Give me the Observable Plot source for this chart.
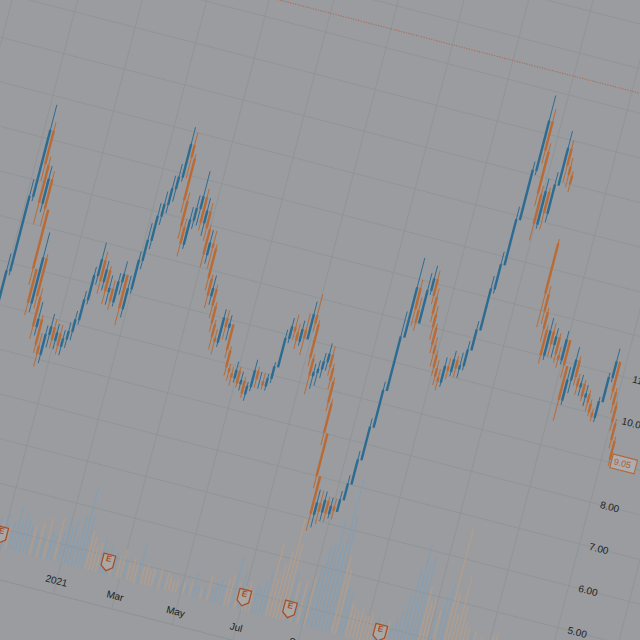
<!DOCTYPE html>
<html><head><meta charset="utf-8">
<script src="https://cdn.jsdelivr.net/npm/d3@7"></script>
<script src="https://cdn.jsdelivr.net/npm/@observablehq/plot@0.6"></script>
<style>
html,body{margin:0;padding:0;width:640px;height:640px;overflow:hidden;background:#9a9c9f;}
#stage{position:absolute;left:0;top:0;width:820px;height:840px;transform-origin:0 0;transform:matrix(0.9681,0.2504,-0.2504,0.9681,30.72,-198.63);}
#stage svg{position:absolute;left:0;top:0;max-width:none;}
#baseline{position:absolute;left:0;top:761px;width:820px;height:1px;background:#8e9195;}
</style></head><body><div id="stage"></div>
<script>
// ---- data ----
const firstDate = "2020-08-17";      // first candle, candles every 3.5 days
const stepDays = 3.5;
const firstOpen = 7.4;
const gapOpens = {151: 13.6};        // gap-down open after the second peak
const closes = [
 7.6,7.9,8.3,8.9,9.8,11.6,13.2,12.4,11.5,12.1,
 11.4,10.0,9.2,10.3,9.4,8.7,8.9,8.3,8.1,8.6,
 8.8,8.5,8.7,8.4,8.6,8.8,9.1,9.6,10.2,10.6,
 10.1,10.4,9.9,10.0,9.7,10.2,10.4,9.6,10.1,10.8,
 11.3,11.9,12.2,12.6,12.9,13.7,13.4,12.4,11.8,11.4,
 12.0,12.3,12.6,12.0,12.3,11.9,11.3,11.6,11.5,10.8,
 10.4,10.6,10.2,9.8,9.5,9.4,10.0,9.8,9.9,9.3,
 8.9,8.8,8.7,8.9,8.6,8.7,8.4,8.6,9.0,8.8,
 8.8,8.7,8.9,9.2,9.9,10.2,10.1,9.9,10.2,10.0,
 10.6,10.4,9.6,9.2,9.3,9.4,9.6,9.8,9.5,9.2,
 8.7,8.0,7.0,6.1,6.4,6.2,6.5,6.2,6.4,6.3,
 6.6,7.0,7.6,8.4,9.3,10.6,11.8,11.3,11.0,11.8,
 12.1,11.7,11.3,11.0,10.6,10.4,10.1,9.9,9.8,10.2,
 10.1,10.4,10.2,10.3,10.7,11.2,12.2,12.8,13.9,15.1,
 16.3,15.6,14.6,13.9,14.7,14.2,14.9,15.8,15.4,15.2,
 15.0,12.4,12.0,11.6,11.0,11.6,11.3,11.5,11.1,11.0,
 11.5,10.9,10.1,10.6,11.1,10.7,10.5,10.6,10.3,10.4,
 10.2,10.0,9.9,10.3,10.9,11.3,10.6,10.3,9.9,9.5,
 9.05];
const highs = [
 7.9,8.1,8.5,9.2,10.2,12.0,13.8,13.4,12.6,12.4,
 12.3,11.2,10.0,10.9,10.4,9.6,9.3,9.0,8.6,8.8,
 9.1,9.0,8.9,8.9,8.8,9.0,9.3,9.8,10.4,11.0,
 10.8,10.6,10.5,10.3,10.2,10.4,10.7,10.4,10.4,11.0,
 11.7,12.2,12.5,12.9,13.2,14.1,14.0,13.5,12.6,12.0,
 12.3,12.6,13.2,12.8,12.6,12.5,12.0,11.9,11.9,11.6,
 10.9,10.9,10.7,10.3,9.9,9.7,10.2,10.2,10.1,9.9,
 9.4,9.0,8.95,9.1,9.0,8.9,8.8,8.7,9.25,9.1,
 9.0,9.0,9.0,9.3,10.1,10.4,10.5,10.3,10.4,10.6,
 10.9,11.1,10.5,9.7,9.5,9.6,9.8,10.05,10.0,9.6,
 9.3,8.8,8.0,7.0,6.7,6.7,6.7,6.6,6.6,6.6,
 6.8,7.2,7.8,8.6,9.5,11.2,12.5,12.0,11.6,12.2,
 12.4,12.3,11.9,11.5,11.1,10.8,10.5,10.3,10.1,10.4,
 10.4,10.6,10.5,10.6,10.9,11.4,12.5,13.1,14.2,15.3,
 16.9,16.6,15.8,14.8,15.0,14.8,15.2,16.2,16.0,15.6,
 15.3,13.7,12.6,12.1,11.7,11.9,11.8,11.7,11.6,11.3,
 11.7,11.5,10.9,10.9,11.4,11.2,10.8,10.8,10.7,10.6,
 10.5,10.3,10.1,10.4,11.0,11.6,11.3,10.7,10.4,10.0,
 9.6];
const lows = [
 7.3,7.5,7.8,8.2,8.8,9.7,11.5,12.0,11.0,11.3,
 11.0,9.6,8.9,9.0,9.1,8.4,8.5,8.1,7.8,7.9,
 8.3,8.3,8.3,8.2,8.2,8.4,8.6,9.0,9.5,10.0,
 9.8,9.9,9.6,9.6,9.5,9.6,9.9,9.2,9.4,10.0,
 10.6,11.1,11.7,12.0,12.3,12.8,12.9,12.1,11.5,11.1,
 11.3,11.8,11.9,11.8,11.7,11.6,11.0,11.1,11.0,10.5,
 10.1,10.2,9.9,9.6,9.2,9.1,9.3,9.5,9.5,9.1,
 8.7,8.6,8.5,8.6,8.5,8.45,8.3,8.25,8.5,8.6,
 8.6,8.6,8.6,8.8,9.2,9.8,9.9,9.7,9.8,9.6,
 10.0,10.2,9.4,8.75,8.9,9.0,9.2,9.4,9.3,9.0,
 8.5,7.7,6.7,5.7,5.8,5.9,6.0,6.0,6.1,6.1,
 6.3,6.6,7.0,7.6,8.4,9.3,10.6,10.9,10.8,11.0,
 11.7,11.5,11.1,10.7,10.4,10.1,9.9,9.7,9.6,9.7,
 9.9,10.0,10.0,10.0,10.2,10.7,11.2,12.1,12.8,13.9,
 15.0,15.3,14.3,13.5,13.8,13.8,14.0,14.9,15.0,14.9,
 14.8,11.6,11.7,11.3,10.8,10.9,11.0,11.0,10.9,10.8,
 10.9,10.6,9.6,10.0,10.3,10.5,10.3,10.3,10.2,10.1,
 10.0,9.9,9.8,9.8,10.3,10.8,10.4,10.1,9.7,9.3,
 8.9];
const volumes = [
 3,4,5,6,8,9,10,8,6,5,
 5,6,5,4,5,4,3,4,3,3,
 3.0,2.5,3.5,2.2,2.8,4.5,3.2,4.0,3.5,2.8,
 3.0,2.4,3.6,2.5,4.2,3.0,2.6,4.4,3.2,4.6,
 3.8,4.6,3.0,5.2,8.3,5.5,4.0,3.4,2.6,3.0,
 3.5,2.4,2.8,2.0,2.6,2.2,3.0,2.0,1.8,2.4,
 2.0,3.9,1.8,2.2,1.6,1.8,1.5,2.0,1.4,1.8,
 1.5,1.2,1.4,1.0,1.3,1.1,1.6,2.5,1.4,1.2,
 1.3,2.6,1.5,1.8,2.4,2.0,2.8,3.2,5.1,2.6,
 3.9,2.4,3.0,2.2,2.8,2.6,3.4,4.5,7.5,4.0,
 5.5,7.0,10.4,8.0,5.0,4.2,3.6,4.4,3.8,5.0,
 6.0,8.4,8.8,11.3,9.0,15.8,12.0,8.0,6.6,5.0,
 4.4,3.6,3.0,2.8,3.2,2.4,2.6,3.0,2.2,2.8,
 2.4,2.0,2.6,2.2,3.0,4.0,5.9,8.4,11.1,9.0,
 10.0,7.0,5.6,6.0,4.6,5.0,6.5,8.0,13.7,7.0,
 5.0,9.0,6.0,4.5,4.0,3.5,3.8,3.0,3.4,3.0,
 3.2,3.8,4.2,3.0,3.4,2.6,2.8,2.4,2.6,2.2,
 2.4,2.0,2.2,2.6,3.0,3.4,2.6,2.4,2.8,3.0,
 3.4];
const earningsDates = ["2020-10-29","2021-02-14","2021-07-01","2021-08-16","2021-11-15","2022-02-28"];
const gridDates = ["2020-07-01","2020-09-01","2020-11-01","2021-01-01","2021-03-01","2021-05-01","2021-07-01","2021-09-01","2021-11-01","2022-01-01","2022-03-01","2022-05-01","2022-07-01"];
const labelDates = ["2021-01-01","2021-03-01","2021-05-01","2021-07-01","2021-09-01","2021-11-01","2022-01-01","2022-03-01","2022-05-01"];
const labelTexts = ["2021","Mar","May","Jul","Sep","Nov","2022","Mar","May"];
const priceTicks = [4,5,6,7,8,9,10,11,12,13,14,15,16,17,18,19,20];
const highLine = 17.45;
const lastPrice = 9.05;

// ---- build tables ----
const utc = d => new Date(d + "T00:00:00Z");
const t0 = utc(firstDate).getTime();
const candles = closes.map((c, i) => {
  const o = i === 0 ? firstOpen : (gapOpens[i] ?? closes[i - 1]);
  return {date: new Date(t0 + i * stepDays * 864e5), open: o, close: c,
          high: Math.max(highs[i], o, c), low: Math.min(lows[i], o, c),
          vol: volumes[i], up: c >= o};
});
const grid = gridDates.map(utc);
const ticks = labelDates.map((d, i) => ({date: utc(d), label: labelTexts[i]}));
const earnings = earningsDates.map(d => ({date: utc(d)}));

const BLUE = "#2c6b92", ORANGE = "#bb6a33";
const VBLUE = "#839fb6", VORANGE = "#b69f8c";
const TEXT = "#1d1f22";
const GRID = "#909397";
const FONT = "'Liberation Sans', Arial, sans-serif";

const X = {type: "utc", domain: [utc("2021-01-01"), utc("2022-05-01")], range: [219.7, 716.8], axis: null};
const YP = {domain: [0, 20], range: [883.4, 19.4], axis: null};

const shield = {draw(ctx) { ctx.moveTo(-6,-8); ctx.lineTo(6,-8); ctx.lineTo(6,4); ctx.lineTo(0,8.5); ctx.lineTo(-6,4); ctx.closePath(); }};
const box = {draw(ctx) { ctx.moveTo(-1,-7); ctx.lineTo(24,-7); ctx.lineTo(24,7); ctx.lineTo(-1,7); ctx.closePath(); }};

const stage = document.getElementById("stage");

const gridPlot = Plot.plot({
  width: 820, height: 840, marginTop: 0, marginRight: 0, marginBottom: 79, marginLeft: 0,
  x: X, y: YP, color: {type: "identity"},
  style: {background: "#9a9c9f", fontFamily: FONT, fontSize: "10px", maxWidth: "none"},
  marks: [
    Plot.ruleY(priceTicks, {stroke: GRID, strokeWidth: 0.8}),
    Plot.ruleX(grid, {stroke: GRID, strokeWidth: 0.8}),
    Plot.text(ticks, {x: "date", text: "label", frameAnchor: "bottom", dy: -10, fill: TEXT, fontSize: 10})
  ]
});
stage.appendChild(gridPlot);
const bl = document.createElement("div"); bl.id = "baseline"; stage.appendChild(bl);

const volPlot = Plot.plot({
  width: 820, height: 840, marginTop: 570, marginRight: 92, marginBottom: 110, marginLeft: 0,
  x: X, y: {domain: [0, 16], axis: null}, color: {type: "identity"},
  style: {background: "transparent", fontFamily: FONT, maxWidth: "none"},
  marks: [
    Plot.ruleX(candles, {x: "date", y1: 0, y2: "vol", stroke: d => d.up ? VBLUE : VORANGE, strokeWidth: 1.3, strokeOpacity: 0.85}),
    Plot.dot(earnings, {x: "date", frameAnchor: "bottom", dy: -13, symbol: shield, r: 7, fill: "#aaa8a7", stroke: "#a4502b", strokeWidth: 1.3}),
    Plot.text(earnings, {x: "date", frameAnchor: "bottom", dy: -14, text: () => "E", fill: "#a4502b", fontSize: 8.5, fontWeight: "bold"})
  ]
});
stage.appendChild(volPlot);

const pricePlot = Plot.plot({
  width: 820, height: 840, marginTop: 0, marginRight: 92, marginBottom: 79, marginLeft: 0,
  x: X, y: YP, color: {type: "identity"},
  style: {background: "transparent", fontFamily: FONT, fontSize: "10px", maxWidth: "none"},
  marks: [
    Plot.ruleY([highLine], {stroke: "#ad6b5a", strokeWidth: 1.1, strokeDasharray: "1.2 1.4"}),
    Plot.ruleX(candles, {x: "date", y1: "low", y2: "high", stroke: d => d.up ? BLUE : ORANGE, strokeWidth: 0.9}),
    Plot.ruleX(candles, {x: "date", y1: "open", y2: "close", stroke: d => d.up ? BLUE : ORANGE, strokeWidth: 2.4}),
    Plot.text(priceTicks, {y: d => d, text: d => d.toFixed(2), frameAnchor: "right", dx: -1, textAnchor: "start", fill: TEXT, fontSize: 10}),
    Plot.dot([lastPrice], {y: d => d, frameAnchor: "right", symbol: box, r: 7, fill: "#abadb0", stroke: "#b5683a", strokeWidth: 1.1}),
    Plot.text([lastPrice], {y: d => d, text: d => d.toFixed(2), frameAnchor: "right", dx: 1.5, textAnchor: "start", fill: "#b0602f", fontSize: 9})
  ]
});
stage.appendChild(pricePlot);
</script></body></html>
